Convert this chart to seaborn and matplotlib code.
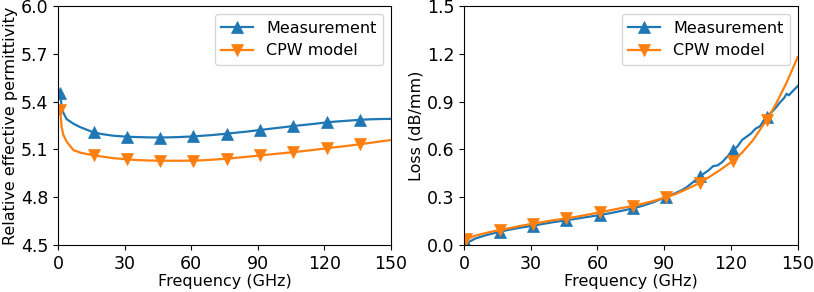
import numpy as np
import pandas as pd
import matplotlib
matplotlib.use("Agg")
import matplotlib.pyplot as plt
import seaborn as sns

# ---------------- data ----------------
# Left panel: relative effective permittivity
perm_freq = [1, 1.6, 2.4, 3.9, 6.9, 10, 16, 20, 25, 31, 35, 40, 46, 50, 55, 61, 65, 70, 76,
             80, 85, 91, 95, 100, 106, 110, 115, 121, 125, 130, 136, 140, 145, 150]
perm_meas = [5.455, 5.37, 5.33, 5.29, 5.262, 5.240, 5.207, 5.196, 5.186, 5.180, 5.178, 5.176,
             5.175, 5.176, 5.178, 5.182, 5.186, 5.191, 5.199, 5.205, 5.212, 5.222, 5.229,
             5.237, 5.247, 5.253, 5.260, 5.270, 5.275, 5.280, 5.286, 5.289, 5.291, 5.292]
perm_model = [5.345, 5.243, 5.19, 5.149, 5.096, 5.080, 5.063, 5.055, 5.045, 5.038, 5.034,
              5.031, 5.029, 5.029, 5.029, 5.030, 5.032, 5.036, 5.042, 5.047, 5.054, 5.062,
              5.068, 5.075, 5.083, 5.089, 5.097, 5.107, 5.114, 5.122, 5.133, 5.140, 5.150,
              5.159]

# Right panel: loss (dB/mm)
loss_freq_meas = [1, 5, 10, 16, 20, 25, 31, 35, 40, 46, 50, 55, 61, 65, 70, 76, 80, 85, 91,
                  95, 98, 100, 103, 106, 108, 110, 112, 114, 116, 118, 121, 123, 125, 127,
                  129, 131, 133, 136, 138, 140, 142, 144, 145, 146, 148, 150]
loss_meas = [0.010, 0.040, 0.062, 0.083, 0.095, 0.108, 0.121, 0.131, 0.143, 0.155, 0.164,
             0.175, 0.188, 0.198, 0.212, 0.230, 0.245, 0.268, 0.303, 0.325, 0.345, 0.362,
             0.395, 0.432, 0.450, 0.470, 0.495, 0.500, 0.520, 0.550, 0.597, 0.620, 0.660,
             0.680, 0.700, 0.730, 0.745, 0.805, 0.830, 0.860, 0.895, 0.925, 0.950, 0.940,
             0.970, 0.998]
loss_freq_model = [1, 5, 10, 16, 20, 25, 31, 35, 40, 46, 50, 55, 61, 65, 70, 76, 80, 85, 91,
                   95, 100, 106, 110, 115, 121, 125, 130, 136, 140, 145, 150]
loss_model = [0.036, 0.058, 0.076, 0.094, 0.104, 0.119, 0.134, 0.143, 0.155, 0.167, 0.176,
              0.189, 0.205, 0.216, 0.230, 0.245, 0.258, 0.276, 0.300, 0.320, 0.350, 0.390,
              0.425, 0.470, 0.530, 0.580, 0.660, 0.785, 0.880, 1.020, 1.180]

marker_freqs = [1, 16, 31, 46, 61, 76, 91, 106, 121, 136]

perm_ticks = [4.5, 4.8, 5.1, 5.4, 5.7, 6.0]
loss_ticks = [0.0, 0.3, 0.6, 0.9, 1.2, 1.5]
freq_ticks = [0, 30, 60, 90, 120, 150]

labels = ["Measurement", "CPW model"]
colors = ["#1f77b4", "#ff7f0e"]
markers = ["^", "v"]

FS = 11.5
TFS = 12.5

# ---------------- plotting ----------------
fig = plt.figure(figsize=(8.14, 2.92), dpi=100)
ax1 = fig.add_axes([0.0713, 0.161, 0.409, 0.818])
ax2 = fig.add_axes([0.570, 0.161, 0.410, 0.818])


def idx(freqs):
    return [freqs.index(f) for f in marker_freqs]


def draw(ax, f, y, lab, col, mk):
    df = pd.DataFrame({"f": f, "y": y})
    sns.lineplot(data=df, x="f", y="y", ax=ax, color=col, marker=mk, markevery=idx(f),
                 markersize=8, linewidth=1.6, markeredgewidth=0.5, markeredgecolor=col,
                 label=lab, estimator=None, sort=False)


draw(ax1, perm_freq, perm_meas, labels[0], colors[0], markers[0])
draw(ax1, perm_freq, perm_model, labels[1], colors[1], markers[1])
draw(ax2, loss_freq_meas, loss_meas, labels[0], colors[0], markers[0])
draw(ax2, loss_freq_model, loss_model, labels[1], colors[1], markers[1])

ax1.set_xlim(0, 150)
ax1.set_ylim(4.5, 6.0)
ax1.set_yticks(perm_ticks)
ax1.set_yticklabels([f"{t:.1f}" for t in perm_ticks])
ax1.set_ylabel("Relative effective permittivity", labelpad=2)

ax2.set_xlim(0, 150)
ax2.set_ylim(0.0, 1.5)
ax2.set_yticks(loss_ticks)
ax2.set_yticklabels([f"{t:.1f}" for t in loss_ticks])
ax2.set_ylabel("Loss (dB/mm)", labelpad=2)

for ax in (ax1, ax2):
    ax.set_xticks(freq_ticks)
    ax.set_xlabel("Frequency (GHz)", labelpad=1)
    ax.tick_params(labelsize=TFS)
    ax.xaxis.label.set_size(FS)
    ax.yaxis.label.set_size(FS)
    ax.legend(loc="upper right", fontsize=FS)

fig.savefig("out.png", dpi=100)
